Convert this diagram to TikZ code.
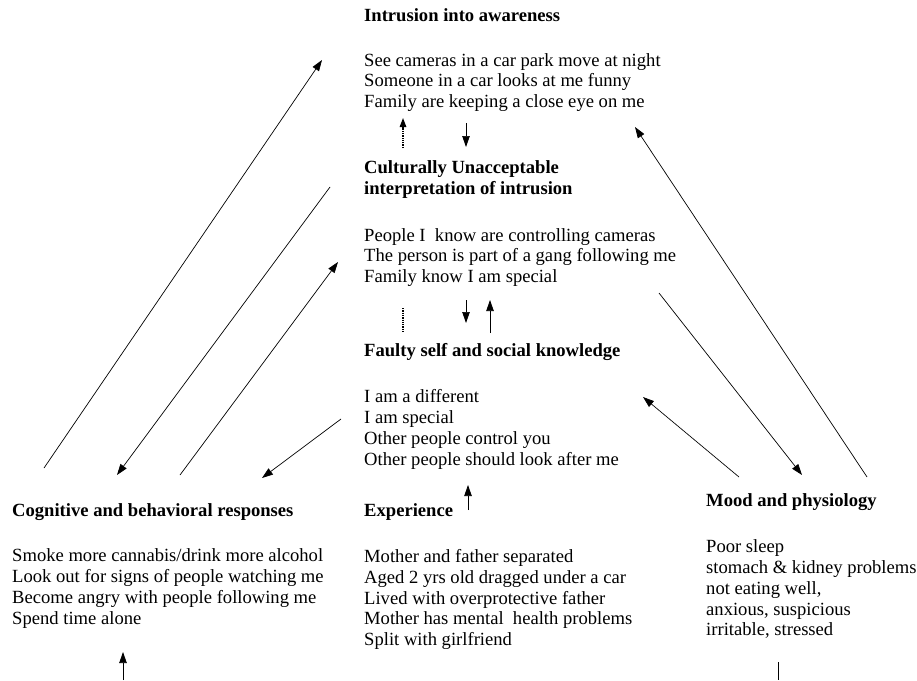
\documentclass[tikz,border=0pt]{standalone}
\usepackage{fontspec}
\setmainfont{Liberation Serif}
\usetikzlibrary{arrows.meta}

\begin{document}
\begin{tikzpicture}[
    x=1pt, y=-1pt,
    font={\fontsize{18.6}{20.8}\selectfont},
    head/.style={anchor=base west, inner sep=0pt, font={\fontsize{18.6}{20.8}\selectfont\bfseries}},
    list/.style={anchor=base west, inner sep=0pt},
    arrow/.style={-{Triangle[length=11pt, width=7.5pt]}, line width=0.7pt},
    link/.style={line width=0.7pt},
    dots/.style={densely dotted, line width=1.3pt},
    dotarrow/.style={dots, -{Triangle[length=9pt, width=6.5pt]}}
]
\useasboundingbox (0,0) rectangle (917,680);

% text blocks, one node per line
\node[head] (intr) at (364,21) {Intrusion into awareness};
\foreach \t [count=\i from 0] in {See cameras in a car park move at night, Someone in a car looks at me funny, Family are keeping a close eye on me}
    \node[list] (intrlist\i) at (364,{66+20.8*\i}) {\t};

\node[head] (cult) at (364,173.3) {Culturally Unacceptable};
\node[head] (cult2) at (364,194.1) {interpretation of intrusion};
\foreach \t [count=\i from 0] in {People I\ \ know are controlling cameras, The person is part of a gang following me, Family know I am special}
    \node[list] (cultlist\i) at (364,{241+20.8*\i}) {\t};

\node[head] (faulty) at (364,356.7) {Faulty self and social knowledge};
\foreach \t [count=\i from 0] in {I am a different, I am special, Other people control you, Other people should look after me}
    \node[list] (faultylist\i) at (364,{402.7+20.8*\i}) {\t};

\node[head] (exper) at (364,516.7) {Experience};
\foreach \t [count=\i from 0] in {Mother and father separated, Aged 2 yrs old dragged under a car, Lived with overprotective father, Mother has mental\ \ health problems, Split with girlfriend}
    \node[list] (experlist\i) at (364,{562.5+20.8*\i}) {\t};

\node[head] (cogn) at (12,516.7) {Cognitive and behavioral responses};
\foreach \t [count=\i from 0] in {Smoke more cannabis/drink more alcohol, Look out for signs of people watching me, Become angry with people following me, Spend time alone}
    \node[list] (cognlist\i) at (12,{561.7+20.8*\i}) {\t};

\node[head] (mood) at (706,506.7) {Mood and physiology};
\foreach \t [count=\i from 0] in {Poor sleep, stomach \& kidney problems, {not eating well,}, {anxious, suspicious}, {irritable, stressed}}
    \node[list] (moodlist\i) at (706,{552.7+20.8*\i}) {\t};

% ends of the connectors
\coordinate (cogUp) at (44,468);
\coordinate (intrL) at (322,60);
\coordinate (cultL) at (330,187);
\coordinate (cogIn) at (117,475);
\coordinate (cogOut) at (180,475);
\coordinate (cultIn) at (338,262);
\coordinate (faultyL) at (341,419);
\coordinate (cogIn2) at (262,478);
\coordinate (moodUp) at (867,477);
\coordinate (intrR) at (635,127);
\coordinate (cultR) at (659,293);
\coordinate (moodIn) at (802,475);
\coordinate (moodOut) at (739,477);
\coordinate (faultyR) at (643,397);
\coordinate (dotA) at (403,148);
\coordinate (dotB) at (403,118);
\coordinate (downA) at (466,123);
\coordinate (downB) at (466,147);
\coordinate (dotC) at (403,308);
\coordinate (dotD) at (403,332);
\coordinate (downC) at (466,300);
\coordinate (downD) at (466,323);
\coordinate (upA) at (490,333);
\coordinate (upB) at (490,300);
\coordinate (expA) at (468,510);
\coordinate (expB) at (468,485);
\coordinate (cogA) at (123,680);
\coordinate (cogB) at (123,652);
\coordinate (moodA) at (778,662);
\coordinate (moodB) at (778,680);

% connectors
\draw[arrow] (cogUp) -- (intrL);
\draw[arrow] (cultL) -- (cogIn);
\draw[arrow] (cogOut) -- (cultIn);
\draw[arrow] (faultyL) -- (cogIn2);
\draw[arrow] (moodUp) -- (intrR);
\draw[arrow] (cultR) -- (moodIn);
\draw[arrow] (moodOut) -- (faultyR);
\draw[dotarrow] (dotA) -- (dotB);
\draw[arrow] (downA) -- (downB);
\draw[dots] (dotC) -- (dotD);
\draw[arrow] (downC) -- (downD);
\draw[arrow] (upA) -- (upB);
\draw[arrow] (expA) -- (expB);
\draw[arrow] (cogA) -- (cogB);
\draw[link] (moodA) -- (moodB);
\end{tikzpicture}
\end{document}
